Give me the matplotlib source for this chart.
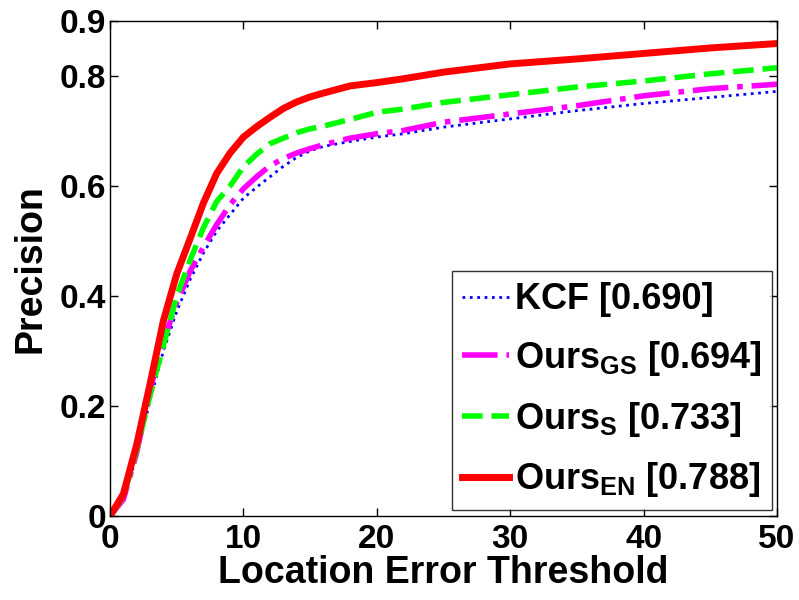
import numpy as np
import matplotlib
matplotlib.use('Agg')
import matplotlib.pyplot as plt

plt.rcParams['font.family'] = ['Liberation Sans', 'DejaVu Sans']
plt.rcParams['font.weight'] = 'bold'
plt.rcParams['mathtext.fontset'] = 'custom'
plt.rcParams['mathtext.rm'] = 'Liberation Sans:bold'
plt.rcParams['mathtext.bf'] = 'Liberation Sans:bold'

# location error thresholds (px)
thr = [0, 1, 2, 3, 4, 5, 6, 7, 8, 9, 10, 11, 12, 13, 14, 15, 16, 18, 20, 22, 25, 30, 35, 40, 45, 50]

kcf = [0, 0.03, 0.11, 0.21, 0.30, 0.372, 0.43, 0.478, 0.518, 0.548, 0.578, 0.598, 0.617, 0.636, 0.652,
       0.664, 0.672, 0.681, 0.689, 0.695, 0.707, 0.722, 0.737, 0.750, 0.761, 0.772]
ours_gs = [0, 0.03, 0.115, 0.23, 0.317, 0.388, 0.445, 0.489, 0.53, 0.566, 0.595, 0.617, 0.637, 0.65, 0.66,
           0.668, 0.675, 0.687, 0.695, 0.701, 0.716, 0.731, 0.746, 0.764, 0.777, 0.785]
ours_s = [0, 0.035, 0.12, 0.22, 0.31, 0.40, 0.465, 0.524, 0.572, 0.60, 0.635, 0.658, 0.677, 0.687, 0.697,
          0.704, 0.709, 0.721, 0.734, 0.740, 0.752, 0.766, 0.780, 0.791, 0.804, 0.815]
ours_en = [0, 0.04, 0.13, 0.24, 0.355, 0.44, 0.504, 0.569, 0.623, 0.66, 0.689, 0.708, 0.725, 0.741, 0.753,
           0.762, 0.769, 0.782, 0.788, 0.795, 0.807, 0.822, 0.831, 0.841, 0.851, 0.859]

labels = ['KCF [0.690]',
          r'Ours$_{\mathbf{GS}}$ [0.694]',
          r'Ours$_{\mathbf{S}}$ [0.733]',
          r'Ours$_{\mathbf{EN}}$ [0.788]']

fig = plt.figure(figsize=(7.99, 6.0), dpi=100)
ax = fig.add_axes([0.1377, 0.14, 0.8348, 0.825])

ax.plot(thr, kcf, ':', color='#0000ff', lw=2, label=labels[0])
ax.plot(thr, ours_gs, '-.', color='#ff00ff', lw=4, label=labels[1])
ax.plot(thr, ours_s, '--', color='#00ff00', lw=4, label=labels[2])
ax.plot(thr, ours_en, '-', color='#ff0000', lw=5, label=labels[3])

ax.set_xlim(0, 50)
ax.set_ylim(0, 0.9)
ax.set_xticks([0, 10, 20, 30, 40, 50])
ax.set_yticks([0, 0.2, 0.4, 0.6, 0.8, 0.9])
ax.set_yticklabels(['0', '0.2', '0.4', '0.6', '0.8', '0.9'])
ax.tick_params(direction='in', top=True, right=True, labelsize=24, length=6, width=1, pad=3)
ax.tick_params(axis='x', pad=6)
for s in ax.spines.values():
    s.set_linewidth(1)

ax.set_xlabel('Location Error Threshold', fontsize=27, fontweight='bold', labelpad=0)
ax.set_ylabel('Precision', fontsize=27, fontweight='bold', labelpad=8)

leg = ax.legend(loc='lower right', bbox_to_anchor=(0.993, 0.012), fontsize=26,
                frameon=True, fancybox=False, edgecolor='black', handlelength=1.3,
                handletextpad=0.15, borderpad=0.3, labelspacing=0.6, borderaxespad=0)
leg.get_frame().set_linewidth(1)

plt.savefig('out.png', dpi=100)
